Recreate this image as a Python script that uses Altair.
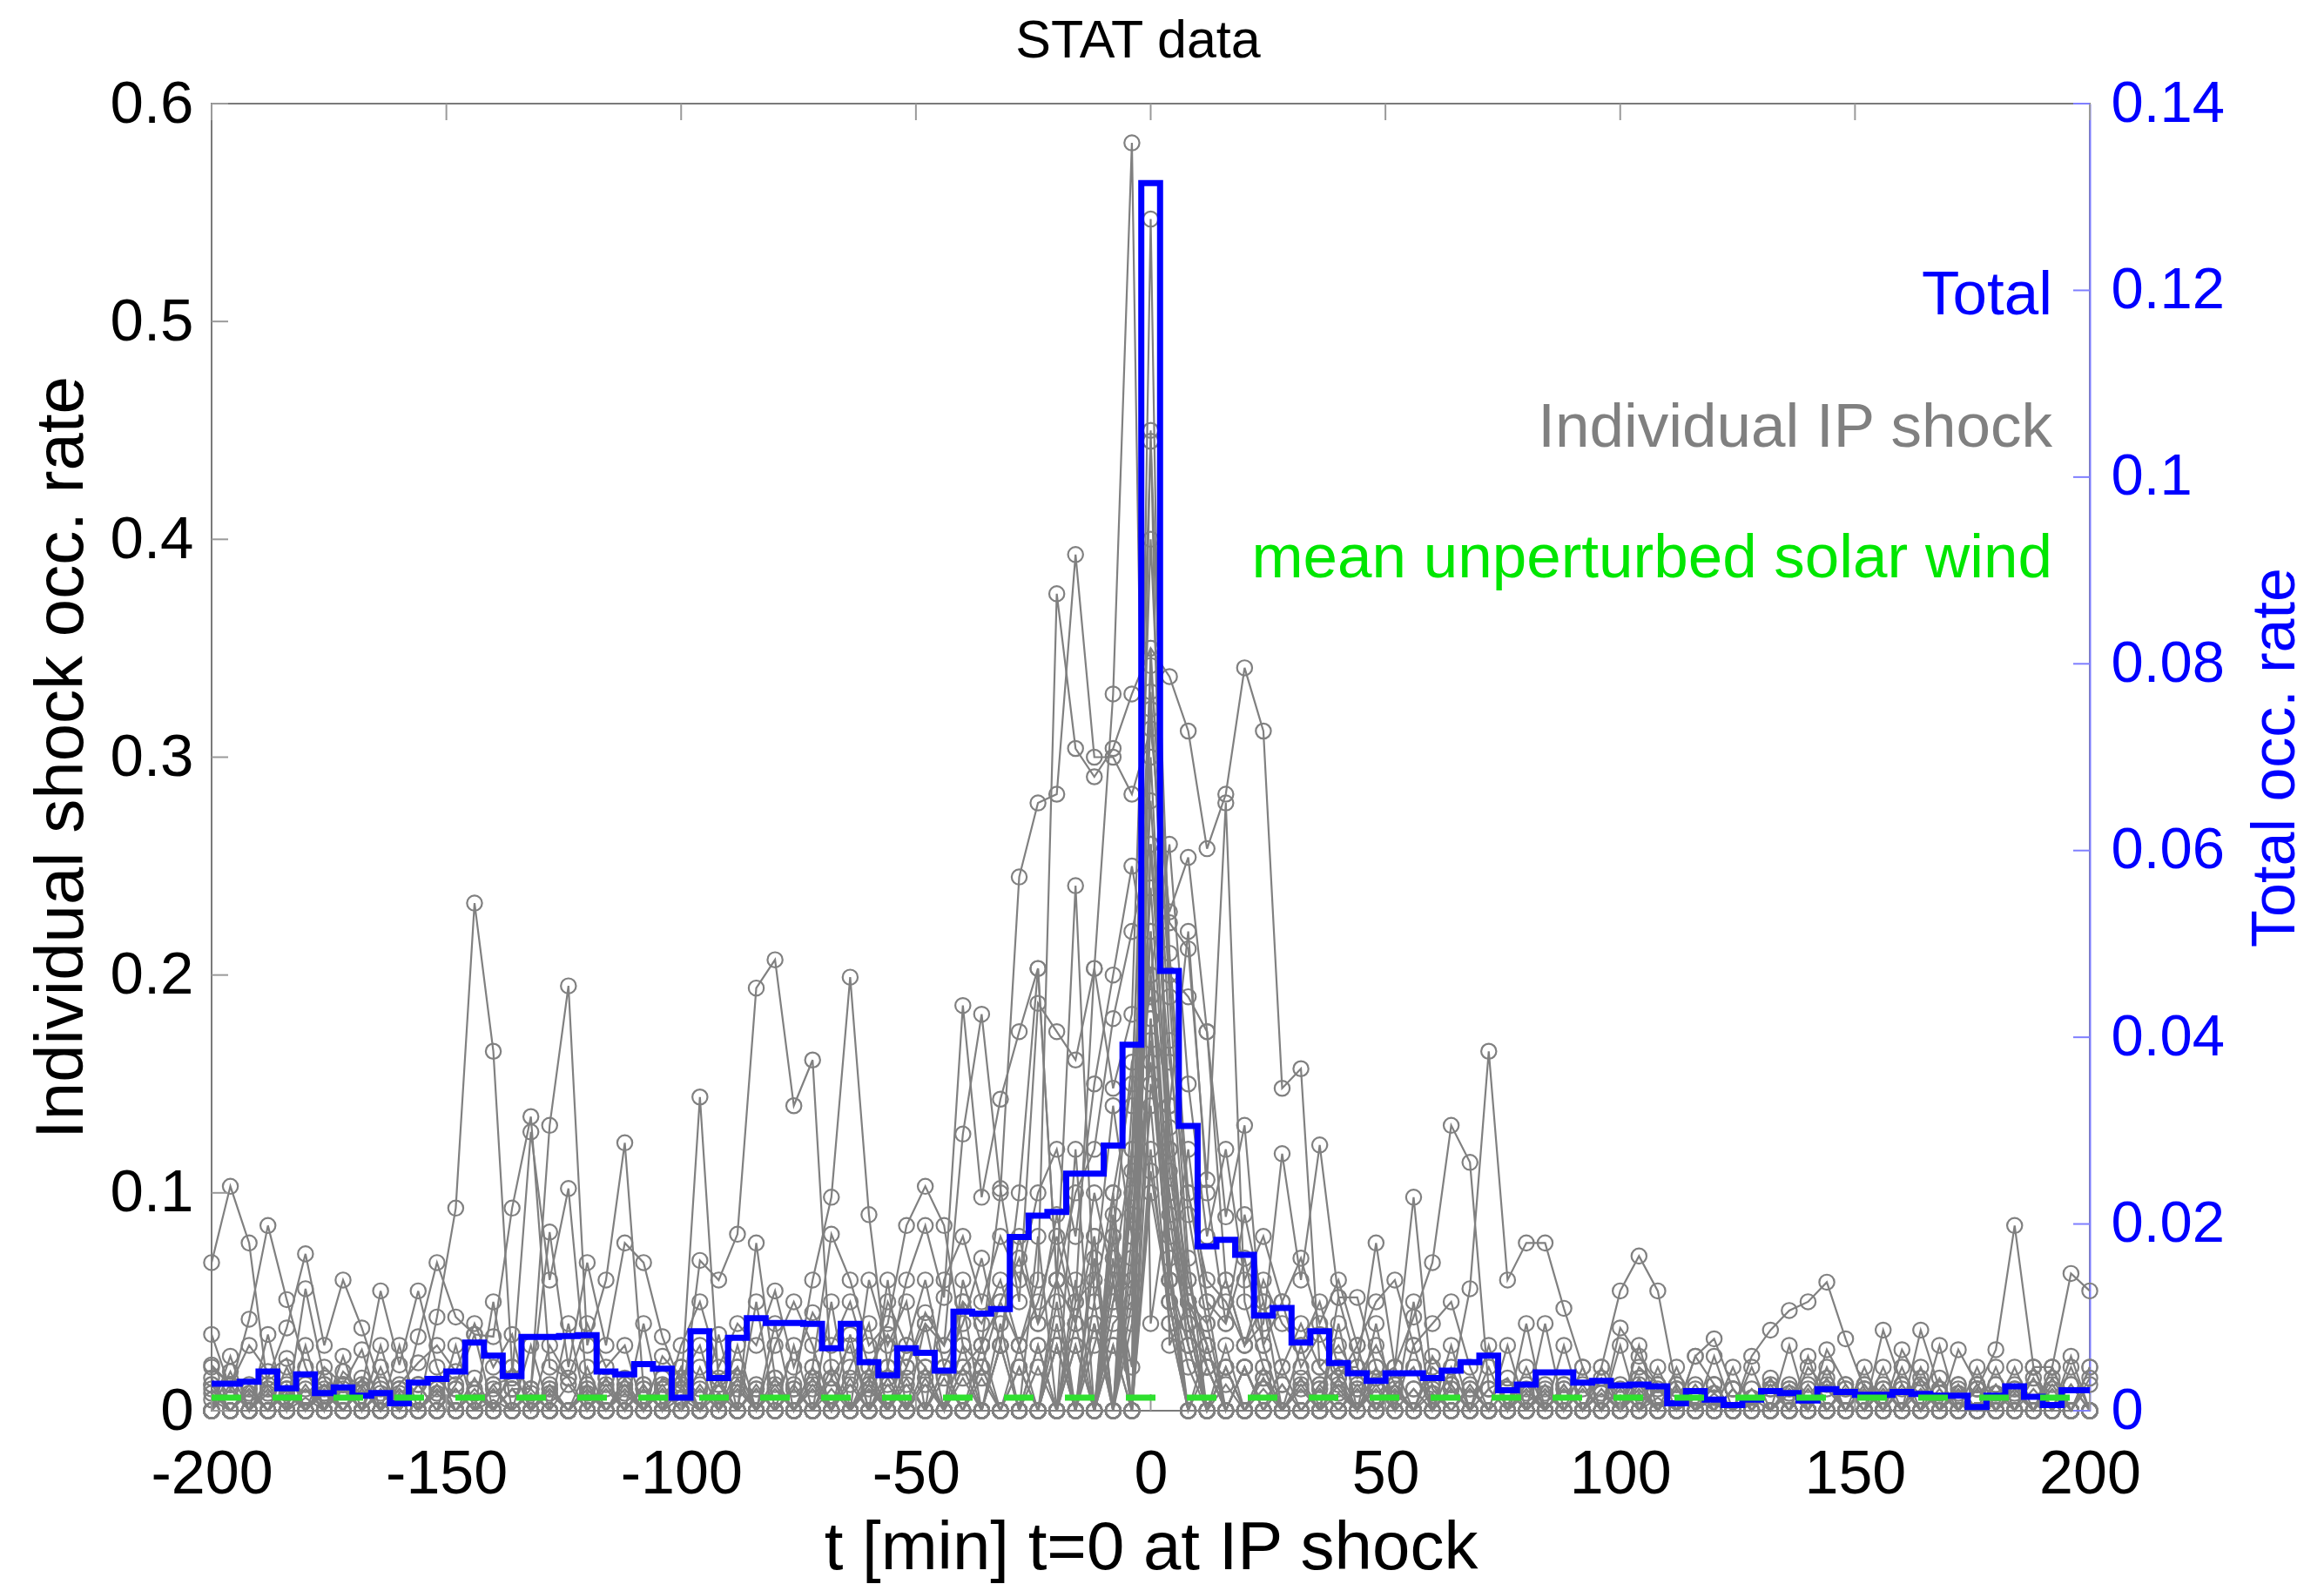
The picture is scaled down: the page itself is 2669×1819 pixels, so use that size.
import altair as alt
import pandas as pd

# ---------------- data ----------------
T = list(range(-200, 201, 4))

TOTAL = [
    0.0029, 0.0029, 0.0031, 0.0042, 0.0024, 0.0039, 0.0019, 0.0025, 0.0016, 0.0019,
    0.0008, 0.0030, 0.0034, 0.0042, 0.0073, 0.0059, 0.0037, 0.0079, 0.0079, 0.0080,
    0.0081, 0.0042, 0.0039, 0.0050, 0.0045, 0.0014, 0.0085, 0.0035, 0.0078, 0.0099,
    0.0094, 0.0094, 0.0093, 0.0067, 0.0093, 0.0052, 0.0038, 0.0067, 0.0062, 0.0043,
    0.0106, 0.0104, 0.0109, 0.0186, 0.0209, 0.0213, 0.0254, 0.0254, 0.0284, 0.0392,
    0.1315,
    0.0471, 0.0305, 0.0176, 0.0183, 0.0167, 0.0102, 0.0110, 0.0073, 0.0085, 0.0051,
    0.0040, 0.0032, 0.0040, 0.0040, 0.0035, 0.0043, 0.0052, 0.0059, 0.0022, 0.0028,
    0.0041, 0.0041, 0.0030, 0.0032, 0.0027, 0.0028, 0.0026, 0.0008, 0.0021, 0.0012,
    0.0006, 0.0012, 0.0021, 0.0019, 0.0011, 0.0023, 0.0020, 0.0017, 0.0017, 0.0020,
    0.0018, 0.0016, 0.0016, 0.0004, 0.0016, 0.0026, 0.0015, 0.0006, 0.0022, 0.0022,
]

GREEN_LEVEL = [0.0014]

X_TICKS = [-200, -150, -100, -50, 0, 50, 100, 150, 200]
LEFT_TICKS = [0, 0.1, 0.2, 0.3, 0.4, 0.5, 0.6]
RIGHT_TICKS = [0, 0.02, 0.04, 0.06, 0.08, 0.1, 0.12, 0.14]

LEGEND_LABELS = ["Total", "Individual IP shock", "mean unperturbed solar wind"]
LEGEND_COLORS = ["#0000ff", "#808080", "#00e600"]
TITLE = "STAT data"

# individual shocks: non-zero readings keyed by t [min]; unlisted samples read as 0
SHOCKS = [
    {-200: .068, -196: .103, -192: .077, -188: .010, -180: .006, -164: .008, -140: .005, -120: .010,
     -92: .008, -60: .012, -36: .015, -16: .03, -8: .05, -4: .09, 0: .16, 4: .06, 8: .02, 24: .01,
     52: .008, 88: .01, 120: .006, 160: .01, 196: .012},
    {-200: .035, -196: .010, -192: .042, -188: .085, -184: .051, -180: .020, -172: .010, -152: .012,
     -128: .008, -100: .006, -76: .01, -48: .012, -28: .02, -12: .04, -4: .07, 0: .22, 4: .09, 8: .03,
     16: .012, 40: .008, 76: .01, 108: .006, 148: .01, 184: .008},
    {-200: .021, -196: .012, -188: .015, -184: .038, -180: .072, -176: .030, -172: .060, -168: .038,
     -164: .012, -148: .010, -116: .012, -84: .01, -56: .015, -24: .02, -8: .06, 0: .26, 4: .12, 8: .04,
     12: .02, 32: .01, 64: .012, 96: .01, 128: .006, 172: .008},
    {-200: .012, -184: .012, -172: .018, -168: .010, -164: .055, -160: .021, -156: .055, -152: .020,
     -140: .012, -112: .010, -88: .012, -52: .012, -20: .03, -4: .04, 0: .18, 4: .05, 12: .03, 28: .012,
     44: .01, 80: .008, 112: .012, 156: .01, 188: .02},
    {-196: .018, -188: .008, -180: .056, -176: .015, -164: .02, -156: .034, -152: .068, -148: .043,
     -144: .035, -136: .01, -108: .012, -72: .01, -40: .02, -16: .04, -8: .08, 0: .15, 4: .10, 8: .03,
     20: .02, 48: .012, 84: .008, 132: .012, 168: .01},
    {-200: .008, -184: .010, -160: .010, -152: .043, -148: .093, -144: .233, -140: .165, -136: .020,
     -132: .010, -116: .015, -96: .01, -64: .012, -32: .03, -12: .05, -4: .10, 0: .20, 4: .08, 8: .04,
     16: .02, 36: .01, 72: .01, 116: .006, 152: .012, 192: .02},
    {-192: .01, -176: .012, -148: .012, -144: .035, -140: .034, -136: .093, -132: .135, -128: .020,
     -124: .015, -104: .012, -80: .015, -44: .02, -20: .05, -8: .07, 0: .30, 4: .13, 8: .05, 12: .03,
     24: .015, 56: .01, 92: .01, 136: .008, 176: .012, 200: .02},
    {-188: .012, -168: .01, -140: .012, -136: .015, -132: .128, -128: .060, -124: .102, -120: .010,
     -100: .02, -68: .015, -36: .03, -12: .08, -4: .12, 0: .33, 4: .17, 8: .06, 12: .02, 32: .012,
     60: .008, 104: .01, 140: .01, 180: .012},
    {-180: .01, -152: .012, -136: .01, -132: .010, -128: .131, -124: .195, -120: .030, -116: .060,
     -112: .123, -108: .010, -92: .012, -56: .015, -24: .03, -8: .03, 0: .12, 4: .04, 40: .012,
     68: .01, 100: .012, 124: .01, 164: .01},
    {-200: .015, -172: .012, -132: .01, -128: .082, -124: .020, -120: .068, -116: .030, -112: .077,
     -108: .068, -104: .034, -100: .012, -84: .01, -60: .02, -28: .03, -8: .06, 0: .18, 4: .07,
     12: .02, 36: .012, 76: .01, 120: .008, 160: .012, 196: .025},
    {-188: .01, -160: .008, -124: .012, -104: .015, -100: .010, -96: .144, -92: .012, -88: .02,
     -72: .015, -48: .02, -20: .04, -4: .08, 0: .24, 4: .11, 8: .05, 20: .02, 52: .012, 84: .01,
     128: .025, 132: .037, 136: .046, 140: .050, 144: .059, 148: .033, 152: .01, 180: .008},
    {-176: .01, -148: .01, -112: .012, -96: .069, -92: .060, -88: .081, -84: .194, -80: .207,
     -76: .140, -72: .161, -68: .015, -64: .03, -44: .02, -16: .06, -8: .09, 0: .35, 4: .19, 8: .07,
     16: .03, 44: .012, 88: .012, 116: .025, 120: .033, 124: .01, 156: .012, 192: .02},
    {-196: .012, -164: .01, -120: .012, -88: .015, -76: .01, -72: .06, -68: .098, -64: .199,
     -60: .090, -56: .020, -40: .03, -12: .07, -4: .11, 0: .28, 4: .14, 8: .05, 28: .02, 56: .01,
     96: .02, 100: .055, 104: .071, 108: .055, 112: .01, 164: .037, 168: .01},
    {-184: .01, -156: .012, -108: .01, -84: .077, -80: .015, -72: .02, -68: .081, -64: .060,
     -60: .030, -56: .040, -52: .085, -48: .103, -44: .085, -40: .030, -36: .02, -20: .06, -8: .10,
     0: .26, 4: .12, 8: .06, 12: .03, 40: .052, 44: .052, 48: .02, 72: .01, 108: .012, 144: .028,
     148: .012, 184: .01},
    {-172: .012, -140: .01, -100: .015, -68: .02, -56: .02, -52: .060, -48: .085, -44: .052,
     -40: .186, -36: .098, -32: .143, -28: .174, -24: .203, -20: .06, -16: .04, -12: .08, -4: .14,
     0: .40, 4: .20, 8: .09, 12: .04, 24: .02, 60: .012, 112: .01, 152: .01, 188: .02},
    {-160: .01, -120: .008, -80: .012, -52: .02, -48: .04, -44: .03, -40: .127, -36: .182,
     -32: .102, -28: .050, -24: .187, -20: .174, -16: .161, -12: .203, -8: .148, -4: .182, 0: .445,
     4: .21, 8: .10, 12: .05, 20: .02, 36: .01, 64: .01, 104: .008, 148: .01, 176: .01},
    {-200: .01, -168: .012, -128: .01, -92: .015, -60: .012, -32: .03, -16: .05, -12: .203,
     -8: .329, -4: .582, 0: .04, 4: .10, 8: .04, 20: .02, 48: .01, 80: .012, 124: .01, 172: .012},
    {-184: .008, -144: .01, -104: .01, -64: .015, -28: .02, -12: .03, -8: .06, -4: .02, 0: .547,
     4: .03, 8: .05, 16: .02, 44: .01, 92: .012, 136: .01, 180: .012},
    {-192: .01, -152: .008, -116: .01, -76: .012, -44: .015, -20: .03, -8: .04, -4: .05, 0: .450,
     4: .06, 8: .03, 24: .015, 52: .01, 96: .008, 140: .012, 188: .01},
    {-176: .008, -136: .01, -96: .012, -60: .015, -36: .02, -32: .05, -28: .03, -24: .060,
     -20: .375, -16: .304, -12: .291, -8: .304, -4: .329, 0: .350, 4: .337, 8: .312, 12: .258,
     16: .283, 20: .341, 24: .312, 28: .148, 32: .157, 36: .02, 40: .01, 68: .012, 108: .01, 156: .01},
    {-196: .01, -156: .012, -112: .008, -72: .012, -40: .02, -36: .03, -32: .10, -28: .245,
     -24: .279, -20: .283, -16: .393, -12: .30, -8: .30, -4: .283, 0: .313, 4: .229, 8: .254,
     12: .174, 16: .089, 20: .131, 24: .03, 40: .015, 80: .01, 120: .012, 168: .008},
    {-180: .012, -132: .008, -88: .01, -52: .015, -32: .03, -28: .10, -24: .203, -20: .06,
     -16: .241, -12: .05, -8: .10, -4: .15, 0: .342, 4: .224, 8: .212, 12: .106, 16: .279,
     20: .05, 24: .02, 52: .012, 88: .01, 132: .01, 172: .01},
    {-168: .01, -128: .01, -84: .012, -48: .015, -16: .03, -8: .05, -4: .06, 0: .322, 4: .20,
     8: .19, 12: .174, 16: .06, 20: .03, 24: .04, 28: .118, 32: .06, 36: .122, 40: .052, 44: .02,
     64: .012, 100: .01, 144: .012, 184: .01},
    {-192: .008, -148: .01, -108: .012, -68: .01, -36: .02, -12: .04, 0: .10, 4: .05, 20: .02,
     48: .015, 52: .02, 56: .043, 60: .068, 64: .131, 68: .114, 72: .010, 76: .015, 104: .012,
     132: .01, 176: .012},
    {-184: .01, -144: .008, -100: .01, -56: .012, -24: .03, -4: .05, 0: .14, 4: .04, 32: .015,
     60: .02, 64: .012, 68: .056, 72: .165, 76: .060, 80: .077, 84: .077, 88: .047, 92: .02,
     112: .01, 152: .012, 192: .01},
    {-176: .012, -136: .01, -92: .008, -60: .01, -20: .03, -4: .06, 0: .17, 4: .06, 16: .02,
     36: .012, 40: .02, 44: .02, 48: .077, 52: .02, 56: .098, 60: .01, 84: .012, 116: .01,
     160: .028, 164: .012},
    {-200: .012, -160: .01, -120: .012, -80: .01, -40: .015, -8: .03, 0: .11, 4: .05, 28: .012,
     68: .01, 100: .038, 104: .025, 108: .012, 136: .01, 156: .037, 160: .012, 176: .01,
     180: .028, 184: .085, 188: .02, 192: .02, 196: .063, 200: .055},
    {-100: .03, -96: .05, -92: .02, -88: .04, -84: .03, -80: .055, -76: .02, -72: .045, -68: .03,
     -64: .05, -60: .02, -56: .035, -52: .02, -48: .045, -44: .03, -40: .05, -36: .04, -32: .06,
     -28: .03, -24: .05, -20: .08, -16: .04, -12: .10, -8: .06, -4: .12, 0: .20, 4: .10, 8: .05,
     12: .04, 16: .06, 20: .03, 24: .05, 28: .02, 32: .04, 36: .02, 40: .03, 44: .015, 48: .03,
     52: .012, 56: .02, 116: .025, 120: .012, 172: .028, 176: .012, 200: .02},
    {-60: .012, -56: .05, -52: .03, -48: .06, -44: .02, -40: .04, -36: .07, -32: .03, -28: .08,
     -24: .04, -20: .09, -16: .05, -12: .06, -8: .14, -4: .08, 0: .22, 4: .06, 8: .12, 12: .05,
     16: .04, 20: .07, 24: .03, 28: .05, 32: .02, 36: .035, 40: .015, 44: .03, 52: .02, 60: .025,
     64: .01, 104: .02, 108: .012, 124: .01, 140: .02, 144: .01, 164: .02, 196: .02},
    {-200: .020, -196: .012, -192: .030, -188: .018, -184: .024, -176: .020, -172: .012, -168: .028,
     -160: .012, -156: .022, -152: .030, -148: .018, -144: .040, -140: .020, -136: .035, -128: .030,
     -124: .015, -120: .040, -116: .020, -112: .030, -104: .025, -100: .015, -96: .03, -88: .02,
     -80: .03, -76: .05, -72: .03, -64: .02, -60: .04, -52: .03, -48: .02, -40: .06, -36: .03,
     -32: .05, -28: .07, -24: .04, -20: .06, -16: .10, -12: .12, -8: .18, -4: .22, 0: .26, 4: .16,
     8: .10, 12: .06, 16: .05, 20: .03, 24: .06, 28: .04, 32: .03, 36: .05, 40: .02, 48: .04,
     56: .03, 64: .02, 72: .03, 80: .02, 88: .012, 96: .02, 104: .015, 112: .02, 120: .012,
     128: .02, 136: .012, 144: .015, 152: .02, 160: .012, 168: .015, 176: .02, 184: .012,
     192: .015, 200: .012},
    {-196: .025, -188: .035, -180: .03, -172: .025, -164: .03, -156: .012, -148: .03, -140: .05,
     -132: .03, -124: .04, -116: .015, -108: .04, -100: .02, -92: .035, -84: .05, -76: .03,
     -68: .05, -60: .06, -56: .03, -52: .05, -44: .06, -40: .08, -36: .05, -32: .08, -28: .06,
     -24: .10, -20: .12, -16: .08, -12: .15, -8: .20, -4: .25, 0: .20, 4: .26, 8: .15, 12: .08,
     16: .12, 20: .06, 24: .08, 28: .05, 32: .07, 36: .04, 40: .06, 44: .03, 48: .05, 52: .06,
     56: .03, 60: .04, 64: .05, 68: .02, 76: .03, 84: .04, 92: .02, 100: .03, 108: .02,
     116: .012, 124: .02, 132: .015, 140: .025, 148: .012, 156: .02, 164: .015, 172: .012,
     180: .02, 188: .015, 196: .012},
    {-200: .005, -192: .012, -184: .02, -176: .008, -168: .015, -160: .03, -152: .01, -144: .015,
     -136: .02, -128: .012, -120: .02, -112: .015, -104: .01, -96: .02, -88: .03, -80: .04,
     -72: .02, -64: .035, -56: .06, -48: .04, -40: .05, -32: .04, -24: .08, -16: .12, -8: .08,
     -4: .16, 0: .19, 4: .14, 8: .22, 12: .10, 16: .04, 20: .09, 24: .05, 32: .03, 40: .04,
     48: .02, 56: .05, 64: .03, 72: .02, 80: .04, 88: .03, 96: .015, 104: .03, 112: .012,
     120: .025, 128: .01, 136: .03, 144: .02, 152: .01, 160: .02, 168: .03, 176: .01, 184: .02,
     192: .012, 200: .015},
]

# ---------------- tables built from the arrays ----------------
rows = []
for sid, shock in enumerate(SHOCKS):
    for t in T:
        rows.append({"t": t, "sid": sid, "v": shock.get(t, 0.0)})
shock_df = pd.DataFrame(rows)
total_df = pd.DataFrame({"t": T, "total": TOTAL})
green_df = pd.DataFrame({"v": GREEN_LEVEL})
xt_df = pd.DataFrame({"t": X_TICKS})
lt_df = pd.DataFrame({"v": LEFT_TICKS})
rt_df = pd.DataFrame({"v": RIGHT_TICKS})

# ---------------- styling ----------------
W, H = 2157, 1501
FONT = "Liberation Sans"
GRAY = "#808080"
BLUE = "#0000ff"
TICK_LEN = 19

xscale = alt.Scale(domain=[-200, 200], nice=False, zero=False)
lscale = alt.Scale(domain=[0, 0.6], nice=False, zero=False)
rscale = alt.Scale(domain=[0, 0.14], nice=False, zero=False)

x_axis = alt.Axis(
    values=X_TICKS, ticks=False, domain=False, grid=False,
    labelFont=FONT, labelFontSize=70, labelColor="black", labelPadding=39,
    labelFlush=False, labelOverlap=False,
    labelExpr="datum.value < 0 ? '-' + abs(datum.value) : '' + datum.value",
    title="t [min] t=0 at IP shock", titleFont=FONT, titleFontSize=78,
    titleFontWeight="normal", titleColor="black",
    titleX=W / 2, titleY=158, titleAlign="center", titleBaseline="middle",
)
left_axis = alt.Axis(
    orient="left", values=LEFT_TICKS, ticks=False, domain=False, grid=False,
    labelFont=FONT, labelFontSize=69, labelColor="black", labelPadding=21,
    labelFlush=False, labelOverlap=False, labelExpr="'' + datum.value",
    title="Individual shock occ. rate", titleFont=FONT, titleFontSize=78,
    titleFontWeight="normal", titleColor="black",
    titleX=-172, titleY=H / 2, titleAngle=270, titleAlign="center", titleBaseline="middle",
)
right_axis = alt.Axis(
    orient="right", values=RIGHT_TICKS, ticks=False, domain=True,
    domainColor="#7f7fff", domainWidth=2, grid=False,
    labelFont=FONT, labelFontSize=67, labelColor=BLUE, labelPadding=24,
    labelFlush=False, labelOverlap=False, labelExpr="'' + datum.value",
    title="Total occ. rate", titleFont=FONT, titleFontSize=70,
    titleFontWeight="normal", titleColor=BLUE,
    titleX=213, titleY=H / 2, titleAngle=270, titleAlign="center", titleBaseline="middle",
)

X = alt.X("t:Q", scale=xscale, axis=x_axis)

gray_lines = alt.Chart(shock_df).mark_line(color=GRAY, strokeWidth=2.2).encode(
    x=X, y=alt.Y("v:Q", scale=lscale, axis=left_axis), detail="sid:N"
)
gray_pts = alt.Chart(shock_df).mark_point(
    shape="circle", filled=False, color=GRAY, strokeWidth=2.2, size=300, opacity=1
).encode(x=X, y=alt.Y("v:Q", scale=lscale, axis=left_axis), detail="sid:N")

top_ticks = alt.Chart(xt_df).mark_rule(color="#9a9a9a", strokeWidth=2).encode(
    x=X, y=alt.value(0), y2=alt.value(TICK_LEN)
)
bot_ticks = alt.Chart(xt_df).mark_rule(color="#9a9a9a", strokeWidth=2).encode(
    x=X, y=alt.value(H), y2=alt.value(H - TICK_LEN)
)
left_ticks = alt.Chart(lt_df).mark_rule(color="#9a9a9a", strokeWidth=2).encode(
    y=alt.Y("v:Q", scale=lscale, axis=left_axis), x=alt.value(0), x2=alt.value(TICK_LEN)
)

left_group = alt.layer(gray_lines, gray_pts, top_ticks, bot_ticks, left_ticks)

total_line = alt.Chart(total_df).mark_line(
    color=BLUE, strokeWidth=7, interpolate="step", strokeJoin="miter"
).encode(x=X, y=alt.Y("total:Q", scale=rscale, axis=right_axis))

green_line = alt.Chart(green_df).mark_rule(
    color="#2fe02f", strokeWidth=7, strokeDash=[34, 36]
).encode(y=alt.Y("v:Q", scale=rscale, axis=right_axis), x=alt.value(0), x2=alt.value(W))

right_ticks = alt.Chart(rt_df).mark_rule(color="#7f7fff", strokeWidth=2).encode(
    y=alt.Y("v:Q", scale=rscale, axis=right_axis), x=alt.value(W), x2=alt.value(W - TICK_LEN)
)

legend_y = [221, 373, 523]
legend_layers = []
for lab, col, ly in zip(LEGEND_LABELS, LEGEND_COLORS, legend_y):
    legend_layers.append(
        alt.Chart(pd.DataFrame({"label": [lab]})).mark_text(
            align="right", baseline="middle", font=FONT, fontSize=71, color=col
        ).encode(text="label:N", x=alt.value(2114), y=alt.value(ly))
    )

title_text = alt.Chart(pd.DataFrame({"label": [TITLE]})).mark_text(
    align="center", baseline="alphabetic", font=FONT, fontSize=61, color="black"
).encode(text="label:N", x=alt.value(1064), y=alt.value(-53))

right_group = alt.layer(total_line, right_ticks, green_line, *legend_layers, title_text)

chart = (
    alt.layer(left_group, right_group)
    .resolve_scale(y="independent")
    .properties(
        width=W, height=H,
        padding={"left": 243, "top": 119, "right": 269, "bottom": 199},
        autosize=alt.AutoSizeParams(type="none"),
        background="white",
    )
    .configure_view(stroke="#7a7a7a", strokeWidth=2)
)

chart.save("out.html", embed_options={"renderer": "svg", "actions": False})
